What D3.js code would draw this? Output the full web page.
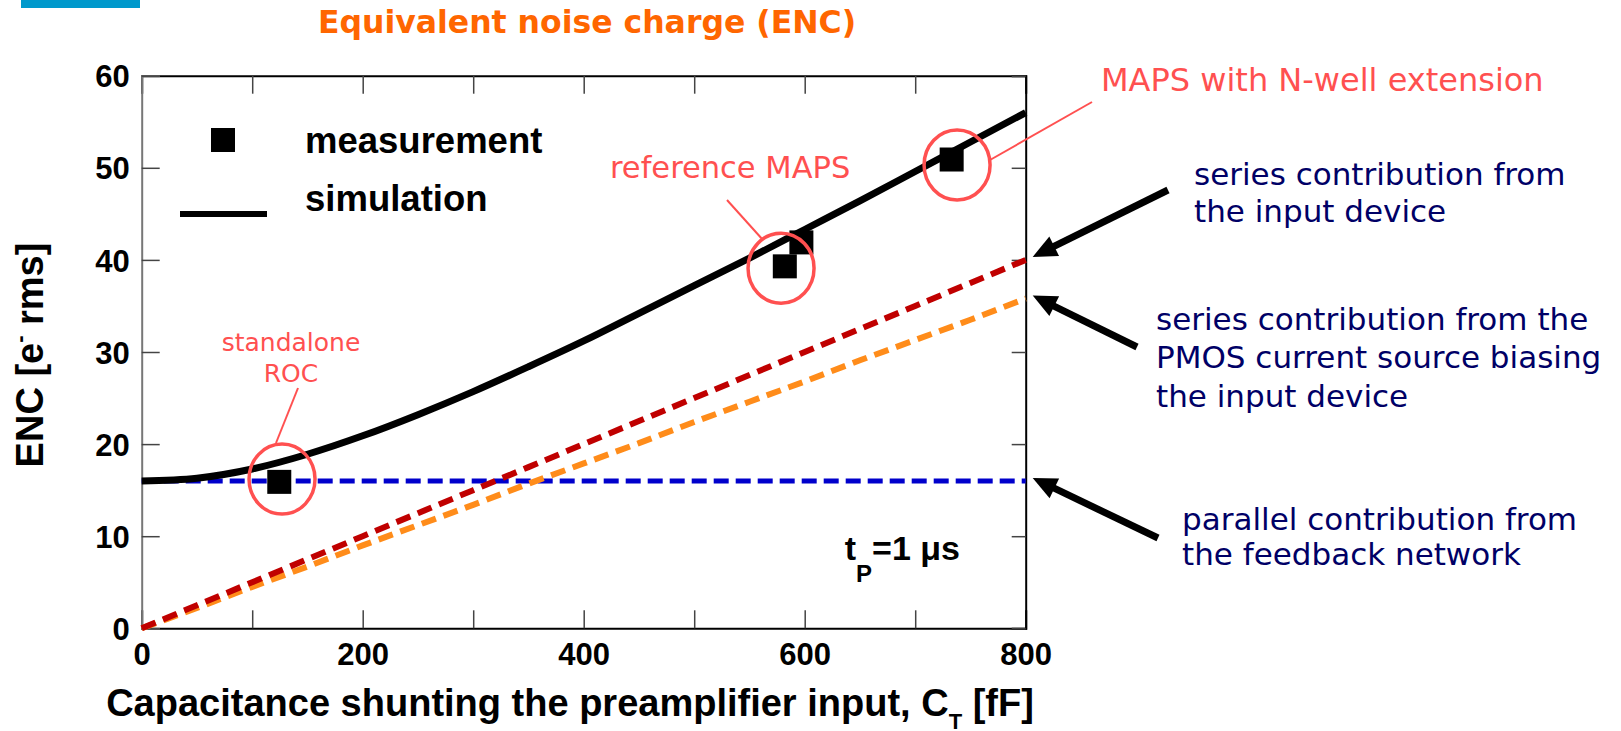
<!DOCTYPE html>
<html>
<head>
<meta charset="utf-8">
<script src="https://cdn.jsdelivr.net/npm/d3@7/dist/d3.min.js"></script>
<style>
  html, body { margin: 0; padding: 0; background: #fff; }
  svg { display: block; }
  .tick text { font-family: "Liberation Sans", Arial, sans-serif; font-weight: bold; font-size: 31px; fill: #000; }
</style>
</head>
<body>
<svg id="chart" width="1621" height="731"></svg>
<script>
// Capacitance grid (fF) shared by the simulated curves
const capacitance = [0, 50, 100, 150, 200, 250, 300, 350, 400, 450, 500, 550, 600, 650, 700, 750, 800];
// Total ENC from simulation (e- rms)
const simulationENC = [16.0, 16.3, 17.3, 18.9, 20.9, 23.2, 25.7, 28.4, 31.2, 34.2, 37.2, 40.2, 43.3, 46.4, 49.6, 52.8, 56.0];
// Series contribution from the input device
const seriesInputENC = [0, 2.5, 5.0, 7.5, 10.0, 12.5, 15.0, 17.5, 20.0, 22.5, 25.0, 27.5, 30.0, 32.5, 35.0, 37.5, 40.0];
// Series contribution from the PMOS current source
const seriesPmosENC = [0, 2.2, 4.5, 6.7, 9.0, 11.2, 13.4, 15.7, 17.9, 20.1, 22.4, 24.6, 26.8, 29.1, 31.3, 33.5, 35.8];
// Parallel contribution from the feedback network
const parallelENC = [16, 16, 16, 16, 16, 16, 16, 16, 16, 16, 16, 16, 16, 16, 16, 16, 16];

// Measured points
const measuredCap = [124.5, 582, 597, 733];
const measuredENC = [15.9, 39.3, 41.9, 50.9];

// Axis ticks
const xTickValues = [0, 100, 200, 300, 400, 500, 600, 700, 800];
const xTickLabels = ["0", "", "200", "", "400", "", "600", "", "800"];
const yTickValues = [0, 10, 20, 30, 40, 50, 60];

const svg = d3.select("#chart");

const x = d3.scaleLinear().domain([0, 800]).range([141.7, 1025.7]);
const y = d3.scaleLinear().domain([0, 60]).range([628.3, 75.7]);

// Corner accent bar
svg.append("rect").attr("x", 21).attr("y", 0).attr("width", 119).attr("height", 8).attr("fill", "#0099cc");

// Title
svg.append("text")
  .attr("x", 587).attr("y", 33)
  .attr("text-anchor", "middle")
  .style("font-family", "'DejaVu Sans', Verdana, sans-serif")
  .style("font-weight", "bold")
  .style("font-size", "31.5px")
  .style("fill", "#ff6600")
  .text("Equivalent noise charge (ENC)");

// Axes with inward ticks on all four sides
const xAxisBottom = d3.axisBottom(x).tickValues(xTickValues)
  .tickFormat((d, i) => xTickLabels[i]).tickSize(-18).tickPadding(18);
const xAxisTop = d3.axisTop(x).tickValues(xTickValues).tickFormat("").tickSize(-18);
const yAxisLeft = d3.axisLeft(y).tickValues(yTickValues).tickSize(-18).tickPadding(12);
const yAxisRight = d3.axisRight(y).tickValues(yTickValues).tickFormat("").tickSize(-14);

function styleAxis(g, domainColor) {
  g.select(".domain").attr("stroke", domainColor).attr("stroke-width", 2);
  g.selectAll(".tick line").attr("stroke", "#444").attr("stroke-width", 1.5);
}

svg.append("g").attr("transform", `translate(0,${y(0)})`).call(xAxisBottom)
  .call(g => styleAxis(g, "#000"))
  .call(g => g.selectAll(".tick text").attr("y", 37).attr("dy", null));
svg.append("g").attr("transform", `translate(0,${y(60)})`).call(xAxisTop).call(g => styleAxis(g, "#000"));
svg.append("g").attr("transform", `translate(${x(0)},0)`).call(yAxisLeft)
  .call(g => styleAxis(g, "#777"))
  .call(g => g.selectAll(".tick text").attr("dy", "0.36em"));
svg.append("g").attr("transform", `translate(${x(800)},0)`).call(yAxisRight).call(g => styleAxis(g, "#000"));

// Axis titles
const xLabel = svg.append("text")
  .attr("x", 570).attr("y", 716)
  .attr("text-anchor", "middle")
  .style("font-family", "'Liberation Sans', Arial, sans-serif")
  .style("font-weight", "bold")
  .style("font-size", "38px");
xLabel.append("tspan").text("Capacitance shunting the preamplifier input, C");
xLabel.append("tspan").attr("dy", 13).style("font-size", "22px").text("T");
xLabel.append("tspan").attr("dy", -13).text(" [fF]");

const yLabel = svg.append("text")
  .attr("transform", "translate(43,355) rotate(-90)")
  .attr("text-anchor", "middle")
  .style("font-family", "'Liberation Sans', Arial, sans-serif")
  .style("font-weight", "bold")
  .style("font-size", "38px");
yLabel.append("tspan").text("ENC [e");
yLabel.append("tspan").attr("dy", -16).style("font-size", "22px").text("-");
yLabel.append("tspan").attr("dy", 16).text(" rms]");

// Curves
const series = capacitance.map((c, i) => ({
  c, sim: simulationENC[i], input: seriesInputENC[i], pmos: seriesPmosENC[i], par: parallelENC[i]
}));
const lineFor = key => d3.line().x(d => x(d.c)).y(d => y(d[key]));

svg.append("path").datum(series).attr("d", lineFor("par"))
  .attr("fill", "none").attr("stroke", "#0000cc").attr("stroke-width", 5).attr("stroke-dasharray", "15,7");
svg.append("path").datum(series).attr("d", lineFor("pmos"))
  .attr("fill", "none").attr("stroke", "#ff8c1a").attr("stroke-width", 6).attr("stroke-dasharray", "15,8");
svg.append("path").datum(series).attr("d", lineFor("input"))
  .attr("fill", "none").attr("stroke", "#c00000").attr("stroke-width", 6).attr("stroke-dasharray", "15,8");
svg.append("path").datum(series).attr("d", d3.line().curve(d3.curveCatmullRom).x(d => x(d.c)).y(d => y(d.sim)))
  .attr("fill", "none").attr("stroke", "#000").attr("stroke-width", 7);

// Measurements
const points = measuredCap.map((c, i) => ({ c, v: measuredENC[i] }));
svg.selectAll("rect.meas").data(points).join("rect").attr("class", "meas")
  .attr("x", d => x(d.c) - 12).attr("y", d => y(d.v) - 12)
  .attr("width", 24).attr("height", 24).attr("fill", "#000");

// Legend
svg.append("rect").attr("x", 211).attr("y", 128).attr("width", 24).attr("height", 24).attr("fill", "#000");
svg.append("line").attr("x1", 180).attr("x2", 267).attr("y1", 214).attr("y2", 214)
  .attr("stroke", "#000").attr("stroke-width", 6);
const legendText = [["measurement", 153], ["simulation", 211]];
svg.selectAll("text.legend").data(legendText).join("text").attr("class", "legend")
  .attr("x", 305).attr("y", d => d[1])
  .style("font-family", "'Liberation Sans', Arial, sans-serif")
  .style("font-weight", "bold").style("font-size", "36.5px")
  .text(d => d[0]);

// Shaping time
const tp = svg.append("text").attr("x", 960).attr("y", 560).attr("text-anchor", "end")
  .style("font-family", "'Liberation Sans', Arial, sans-serif")
  .style("font-weight", "bold").style("font-size", "34px");
tp.append("tspan").text("t");
tp.append("tspan").attr("dy", 22).style("font-size", "24px").text("P");
tp.append("tspan").attr("dy", -22).text("=1 \u03bcs");

// Highlight rings around selected measurements, with leader lines and labels
const red = "#ff5050";
const rings = [
  { c: 127, v: 16.2 },
  { c: 578.6, v: 39.1 },
  { c: 737.9, v: 50.3 }
];
svg.selectAll("ellipse.ring").data(rings).join("ellipse").attr("class", "ring")
  .attr("cx", d => x(d.c)).attr("cy", d => y(d.v))
  .attr("rx", 33).attr("ry", 35)
  .attr("fill", "none").attr("stroke", red).attr("stroke-width", 3.5);

const leaders = [
  [298, 388, 276, 443],
  [727, 200, 763, 240],
  [990, 160, 1092, 102]
];
svg.selectAll("line.leader").data(leaders).join("line").attr("class", "leader")
  .attr("x1", d => d[0]).attr("y1", d => d[1]).attr("x2", d => d[2]).attr("y2", d => d[3])
  .attr("stroke", red).attr("stroke-width", 2);

const redLabels = [
  ["standalone", 291, 351, "middle", 25],
  ["ROC", 291, 382, "middle", 25],
  ["reference MAPS", 610, 178, "start", 30.5],
  ["MAPS with N-well extension", 1101, 91, "start", 32]
];
svg.selectAll("text.note").data(redLabels).join("text").attr("class", "note")
  .attr("x", d => d[1]).attr("y", d => d[2]).attr("text-anchor", d => d[3])
  .style("font-family", "'DejaVu Sans', Verdana, sans-serif")
  .style("font-size", d => d[4] + "px").style("fill", red)
  .text(d => d[0]);

// Explanations for each contribution, with arrows to the curve ends
const navy = "#000066";
const explain = [
  ["series contribution from", 1194, 185],
  ["the input device", 1194, 222],
  ["series contribution from the", 1156, 330],
  ["PMOS current source biasing", 1156, 368],
  ["the input device", 1156, 407],
  ["parallel contribution from", 1182, 530],
  ["the feedback network", 1182, 565]
];
svg.selectAll("text.explain").data(explain).join("text").attr("class", "explain")
  .attr("x", d => d[1]).attr("y", d => d[2])
  .style("font-family", "'DejaVu Sans', Verdana, sans-serif")
  .style("font-size", "31px").style("fill", navy)
  .text(d => d[0]);

const arrows = [
  { tail: [1168, 190], value: 40 },
  { tail: [1137, 347], value: 35.8 },
  { tail: [1158, 538], value: 16 }
];
arrows.forEach(a => {
  const tip = [x(800) + 7, y(a.value) - 3];
  const dx = tip[0] - a.tail[0], dy = tip[1] - a.tail[1];
  const len = Math.hypot(dx, dy), ux = dx / len, uy = dy / len;
  const headLen = 24, headHalf = 11;
  const base = [tip[0] - ux * headLen, tip[1] - uy * headLen];
  svg.append("line")
    .attr("x1", a.tail[0]).attr("y1", a.tail[1]).attr("x2", base[0] + ux * 2).attr("y2", base[1] + uy * 2)
    .attr("stroke", "#000").attr("stroke-width", 7);
  svg.append("path")
    .attr("d", `M${tip[0]},${tip[1]} L${base[0] - uy * headHalf},${base[1] + ux * headHalf} L${base[0] + uy * headHalf},${base[1] - ux * headHalf} Z`)
    .attr("fill", "#000");
});
</script>
</body>
</html>
